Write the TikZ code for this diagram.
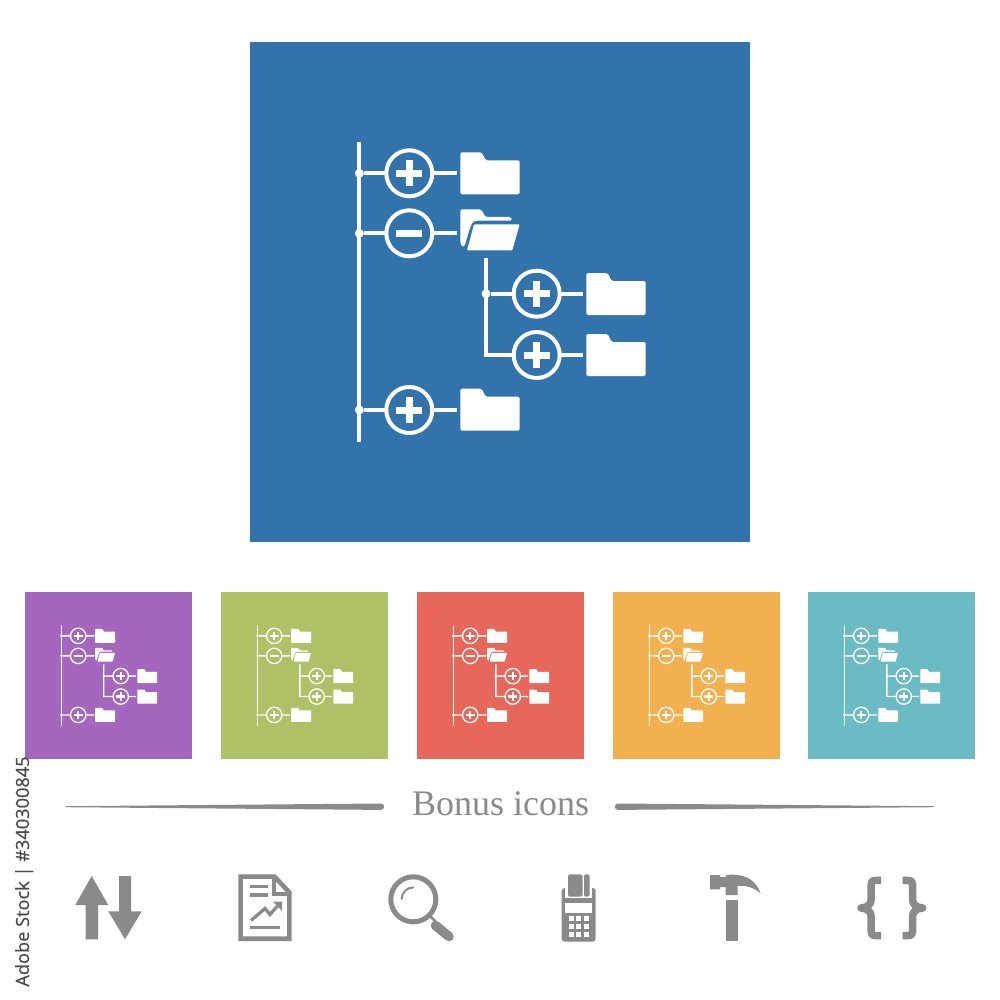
\documentclass[tikz,border=0pt]{standalone}
\usepackage{fontspec}
\setmainfont{Liberation Serif}
\newfontfamily\sidefont[FakeBold=0.6]{Open Sans}
\usetikzlibrary{calc}
\definecolor{cblue}{HTML}{3173AA}
\definecolor{cpurple}{HTML}{A566BD}
\definecolor{cgreen}{HTML}{AEC167}
\definecolor{cred}{HTML}{E7675B}
\definecolor{corange}{HTML}{F3B04E}
\definecolor{cteal}{HTML}{6BBBC4}
\definecolor{cgray}{HTML}{8A8A8A}
\definecolor{cside}{HTML}{4A4A4A}
\tikzset{
  x=1pt,y=-1pt,
  tile/.style={fill=#1,draw=none},
  treeline/.style={draw=white,line width=\sz*4pt},
  toggle/.style={circle,draw=white,line width=\sz*4pt,inner sep=0pt,outer sep=0pt,minimum size=\sz*46pt},
  joint/.style={circle,fill=white,inner sep=0pt,outer sep=0pt,minimum size=\sz*9pt},
  iconfill/.style={fill=cgray,draw=none},
  iconline/.style={draw=cgray,fill=none},
  bonuslabel/.style={text=cgray,font=\fontsize{36}{36}\selectfont,inner sep=0pt},
  sidelabel/.style={text=cside,font=\sidefont\fontsize{18.2}{20}\selectfont,inner sep=0pt,rotate=90},
}
% closed folder with top-left corner at (#1,#2)
\newcommand{\folderat}[2]{%
  \fill[white,rounded corners=\sz*1.6pt] (#1,#2) -- ({#1+21.4},#2) -- ({#1+25.4},{#2+8}) -- ({#1+59.4},{#2+8})
    -- ({#1+59.4},{#2+42}) -- (#1,{#2+42}) -- cycle;}
\newcommand{\plusat}[1]{%
  \fill[white] ($(#1)+(-13,-3.5)$) rectangle ($(#1)+(13,3.5)$);
  \fill[white] ($(#1)+(-3.5,-13)$) rectangle ($(#1)+(3.5,13)$);}
\newcommand{\minusat}[1]{%
  \fill[white] ($(#1)+(-13,-3.3)$) rectangle ($(#1)+(13,3.3)$);}
% #1 prefix, #2 x, #3 y, #4 scale, #5 colour
\newcommand{\treeicon}[5]{%
  \pgfmathsetmacro{\sz}{#4}%
  \begin{scope}[shift={(#2,#3)},scale=#4,name prefix=#1-]
    \fill[tile=#5] (0,0) rectangle (500,500);
    \coordinate (top) at (109.3,100);
    \coordinate (bot) at (109.3,400);
    \draw[treeline] (top) -- (bot);
    \node[joint] (j1) at (109.3,131.3) {};
    \node[joint] (j2) at (109.3,191.3) {};
    \node[joint] (j3) at (109.3,368) {};
    \node[toggle] (t1) at (159.3,131.3) {};
    \node[toggle] (t2) at (159.3,191.3) {};
    \node[toggle] (t3) at (159.3,368) {};
    \coordinate (f1) at (206.7,131.3);
    \coordinate (f2) at (206.7,191.3);
    \coordinate (f3) at (206.7,368);
    \draw[treeline] (j1) -- (t1) (t1) -- (f1);
    \draw[treeline] (j2) -- (t2) (t2) -- (f2);
    \draw[treeline] (j3) -- (t3) (t3) -- (f3);
    \plusat{t1}\minusat{t2}\plusat{t3}
    \folderat{210.3}{110.3}
    \folderat{210.3}{346.7}
    % open folder
    \fill[white,rounded corners=\sz*1.6pt] (210.3,167.3) -- (231,167.3) -- (235.5,175) -- (261,175) -- (262,178.7)
      -- (229,178.7) .. controls (223,178.7) and (222,181) .. (220,186) -- (214.3,204.7) -- (212,204.7) -- (210.3,201) -- cycle;
    \fill[white,rounded corners=\sz*1pt] (224,182.3) -- (269.7,182.3) -- (262.3,208.3) -- (217,208.3) -- cycle;
    % sub tree
    \coordinate (stop) at (236,216.3);
    \node[joint] (j4) at (236,251.7) {};
    \coordinate (elbow) at (236,313);
    \node[toggle] (t4) at (286.7,251.7) {};
    \node[toggle] (t5) at (286.7,313) {};
    \coordinate (f4) at (332.7,251.7);
    \coordinate (f5) at (332.7,313);
    \draw[treeline,line join=miter] (stop) -- (elbow) -- (t5);
    \draw[treeline] (j4) -- (t4) (t4) -- (f4) (t5) -- (f5);
    \plusat{t4}\plusat{t5}
    \folderat{336.3}{231}
    \folderat{336.3}{292}
  \end{scope}}
\begin{document}
\begin{tikzpicture}
\useasboundingbox (0,0) rectangle (1000,1000);
\fill[white] (0,0) rectangle (1000,1000);
\treeicon{big}{250}{42}{1}{cblue}
\treeicon{a}{25}{592}{0.334}{cpurple}
\treeicon{b}{221}{592}{0.334}{cgreen}
\treeicon{c}{417}{592}{0.334}{cred}
\treeicon{d}{613}{592}{0.334}{corange}
\treeicon{e}{808}{592}{0.334}{cteal}
% divider
\node[bonuslabel,anchor=base] (bonus) at (500.5,815) {Bonus icons};
\fill[iconfill] (66,807.2) -- (381,809.9) arc (90:-90:3.2) -- (66,806.2) -- cycle;
\fill[iconfill] (933.5,806.2) -- (618,803.5) arc (-90:-270:3.2) -- (933.5,807.2) -- cycle;
% side stamp
\node[sidelabel,anchor=base] (stamp) at (29,871.5) {Adobe Stock | \#340300845};
% arrows
\fill[iconfill] (91.7,876) -- (108.3,905) -- (98,905) -- (98,939.3) -- (85.7,939.3) -- (85.7,905) -- (75.3,905) -- cycle;
\fill[iconfill] (119,876) -- (131,876) -- (131,911.3) -- (141.7,911.3) -- (125,939.3) -- (108.3,911.3) -- (119,911.3) -- cycle;
% document
\draw[iconline,line width=4.6pt,line join=miter] (240.6,876.6) -- (274.5,876.6) -- (289.4,892.5) -- (289.4,938.7) -- (240.6,938.7) -- cycle;
\draw[iconline,line width=4pt,line join=miter] (274,877) -- (274,893.5) -- (289,893.5);
\fill[iconfill] (250,885) rectangle (268.3,888.3);
\fill[iconfill] (250,893.4) rectangle (268.3,896.7);
\fill[iconfill] (250,926) rectangle (280,929.3);
\draw[iconline,line width=3.3pt] (251,920.5) -- (265,908.5) -- (270,914.5) -- (279,904);
\fill[iconfill] (273,901.5) -- (282,901.5) -- (282,911) -- cycle;
% magnifier
\draw[iconline,line width=5pt] (413.3,899.3) circle (22.5);
\draw[iconline,line width=2pt,line cap=round] (401.7,899) arc (180:270:11.6);
\draw[iconline,line width=2.5pt] (429,915) -- (436,922);
\draw[iconline,line width=9.5pt,line cap=round] (435.5,925.5) -- (449,936.5);
% terminal
\fill[iconfill,rounded corners=3pt] (561.7,888) rectangle (595.7,941.7);
\fill[white] (565,884) rectangle (591.7,898.3);
\fill[iconfill,rounded corners=1.5pt] (568,874.3) -- (582.5,874.3) -- (582.5,896.7) -- (568,896.7) -- cycle;
\fill[iconfill,rounded corners=1.5pt] (584,874.3) -- (589.5,874.3) -- (589.5,896.7) -- (584,896.7) -- cycle;
\fill[white] (565,902.7) rectangle (591.7,912.7);
\foreach \kx in {568.7,576.2,583.9}{\foreach \ky in {916,924,932}{\fill[white] (\kx,\ky) rectangle ++(5,4.5);}}
% hammer
\fill[iconfill] (725.7,900) rectangle (737.7,941);
\fill[iconfill] (710,875) -- (720,875) -- (720,877) -- (726,877) -- (726,875) .. controls (745,873) and (756,880) .. (760.7,893.5)
  .. controls (755,888) and (746,885) .. (737.7,886) -- (737.7,895) -- (725.7,895) -- (725.7,887) -- (720,887) -- (720,889.3) -- (710,889.3) -- cycle;
% braces
\draw[iconline,line width=7.5pt,line join=round] (881,880.4) -- (876,880.4) .. controls (872,880.4) and (871,882) .. (871,885) -- (871,900)
  .. controls (871,904) and (868,907.5) .. (861,908) .. controls (868,908.5) and (871,912) .. (871,916) -- (871,931) .. controls (871,934) and (872,935.6) .. (876,935.6) -- (881,935.6);
\draw[iconline,line width=7.5pt,line join=round] (902.7,880.4) -- (907.7,880.4) .. controls (911.7,880.4) and (912.7,882) .. (912.7,885) -- (912.7,900)
  .. controls (912.7,904) and (915.7,907.5) .. (922.7,908) .. controls (915.7,908.5) and (912.7,912) .. (912.7,916) -- (912.7,931) .. controls (912.7,934) and (911.7,935.6) .. (907.7,935.6) -- (902.7,935.6);
\end{tikzpicture}
\end{document}
